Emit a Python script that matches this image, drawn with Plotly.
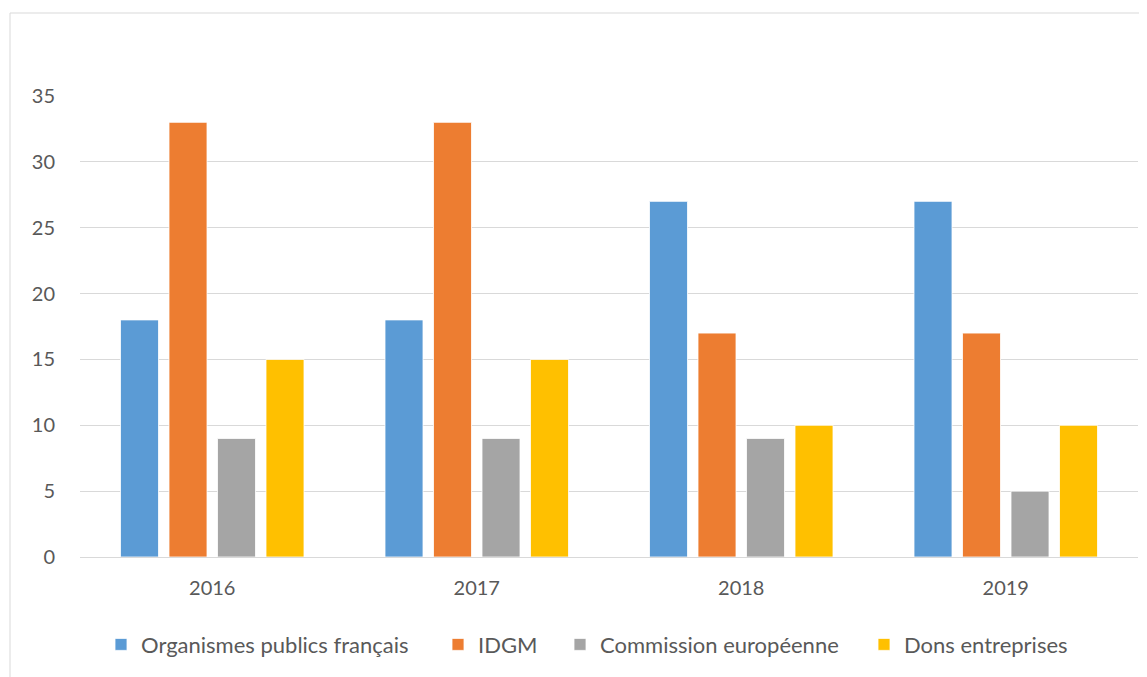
import plotly.graph_objects as go

years = ["2016", "2017", "2018", "2019"]
series_names = ["Organismes publics français", "IDGM", "Commission européenne", "Dons entreprises"]
organismes = [18, 18, 27, 27]
idgm = [33, 33, 17, 17]
commission = [9, 9, 9, 5]
dons = [15, 15, 10, 10]
y_ticks = [0, 5, 10, 15, 20, 25, 30, 35]

colors = ["#5B9BD5", "#ED7D31", "#A5A5A5", "#FFC000"]
values = [organismes, idgm, commission, dons]
legend_ids = ["legend", "legend2", "legend3", "legend4"]
# legend left edges, as fractions of the plot width
legend_x = [(124 - 23 - 80) / 1058, (461 - 23 - 80) / 1058,
            (583 - 23 - 80) / 1058, (887 - 23 - 80) / 1058]

fig = go.Figure()
for name, vals, col, lid in zip(series_names, values, colors, legend_ids):
    fig.add_trace(go.Bar(
        x=years, y=vals, name=name, legend=lid,
        marker=dict(color=col, line=dict(color="white", width=0.8)),
    ))

font_family = "Lato, 'Open Sans', sans-serif"
legend_common = dict(orientation="h", xanchor="left", y=-0.19, yanchor="middle",
                     font=dict(size=22, color="#595959"), bgcolor="rgba(0,0,0,0)")
fig.update_layout(
    width=1139, height=669,
    margin=dict(l=72, r=9, t=88, b=120),
    paper_bgcolor="white", plot_bgcolor="white",
    barmode="group", bargap=0.2665, bargroupgap=0.2165,
    font=dict(family=font_family, size=20, color="#595959"),
    showlegend=True,
    xaxis=dict(showgrid=False, showline=False, ticks="", ticklabelstandoff=17,
               tickfont=dict(size=20, color="#595959")),
    yaxis=dict(range=[0, 35], tickvals=y_ticks, showgrid=True, gridcolor="#D9D9D9",
               gridwidth=1, zeroline=True, zerolinecolor="#D9D9D9", zerolinewidth=1,
               showline=False, ticks="", ticklabelstandoff=24,
               tickfont=dict(size=20, color="#595959")),
    shapes=[dict(type="rect", xref="paper", yref="paper",
                 x0=(10 - 80) / 1058, x1=1.2, y0=-0.6, y1=(557 - 13) / 461,
                 line=dict(color="#D9D9D9", width=1), fillcolor="rgba(0,0,0,0)", layer="below")],
)
for lid, lx in zip(legend_ids, legend_x):
    fig.update_layout({lid: dict(x=lx, **legend_common)})

fig.write_html("out.html")
